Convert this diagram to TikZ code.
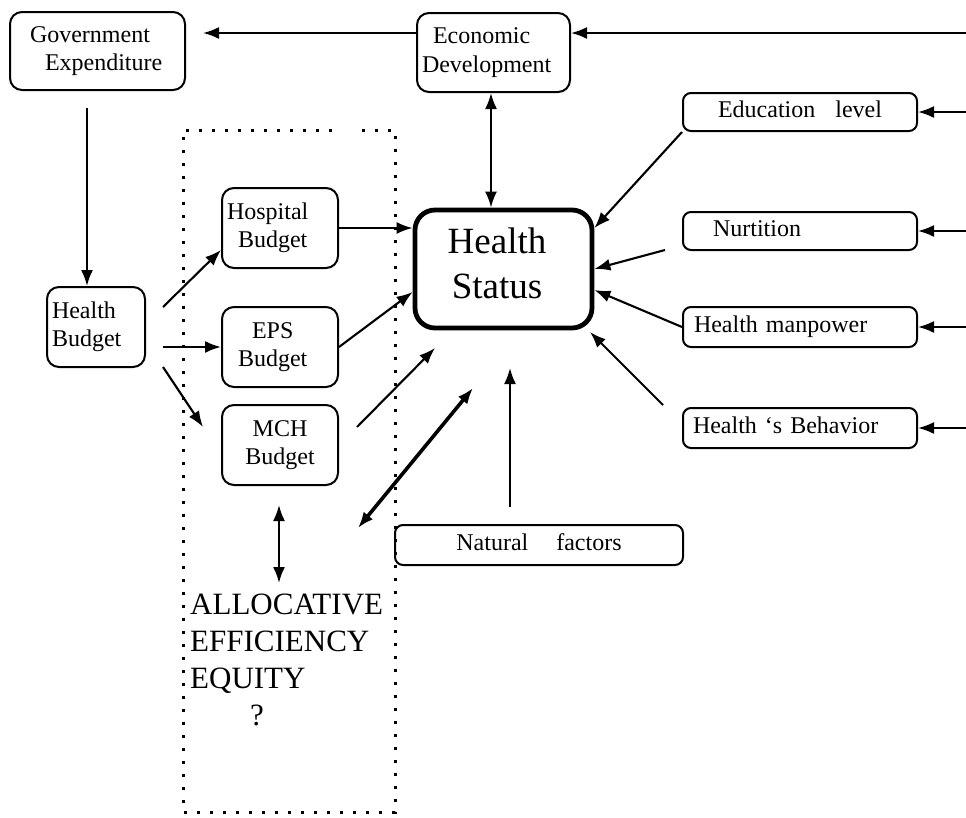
\documentclass[tikz,border=0pt]{standalone}
\usepackage{fontspec}
\setmainfont{Liberation Serif}
\usetikzlibrary{arrows.meta}
\newcommand\bxfont{\fontsize{24}{28.5}\selectfont}
\newcommand\hsfont{\fontsize{37}{45}\selectfont}
\newcommand\alfont{\fontsize{31}{37}\selectfont}
\begin{document}
\begin{tikzpicture}[x=1pt,y=-1pt,
  bx/.style={draw, line width=2pt, rounded corners=12pt, inner sep=0pt, font=\bxfont, align=center},
  lbx/.style={draw, line width=2pt, rounded corners=12pt, inner xsep=5pt, inner ysep=0pt, font=\bxfont, align=left, text width=#1},
  onel/.style={draw, line width=2pt, rounded corners=8pt, inner xsep=5pt, inner ysep=0pt, font=\bxfont,
     text height=16pt, text depth=5pt, text width=224pt},
  hsbox/.style={draw, line width=4.8pt, rounded corners=20pt, minimum width=177pt, minimum height=118pt},
  arr/.style={line width=2.1pt, -{Latex[length=16pt,width=12pt]}},
  darr/.style={line width=2.1pt, {Latex[length=16pt,width=12pt]}-{Latex[length=16pt,width=12pt]}},
  thickdarr/.style={line width=3.6pt, {Latex[length=16pt,width=12pt]}-{Latex[length=16pt,width=12pt]}},
  dots/.style={line width=3pt, dash pattern=on 3pt off 10pt},
]
\useasboundingbox (0,0) rectangle (966,817);
\fill[white] (0,0) rectangle (966,817);

% dotted frame
\draw[dots] (332,130) -- (183,130) -- (183,812) -- (395,812) -- (395,130) -- (357,130);

% nodes
\node[lbx=165pt, minimum height=78pt] (gov) at (97.5,51) {\hspace*{15pt}Government\\\hspace*{30pt}Expenditure};
\node[lbx=143pt, minimum height=79pt] (econ) at (493.5,52.5) {\hspace*{11pt}Economic\\Development};
\node[onel, align=center, minimum height=38pt] (edu) at (800,112) {Education\hspace{20pt}level};
\node[onel, align=left, minimum height=38pt] (nut) at (800,231) {\hspace*{25pt}Nurtition};
\node[onel, align=left, minimum height=40pt] (man) at (800,327) {\hspace*{6pt}Health manpower};
\node[onel, align=left, minimum height=40pt] (beh) at (800,428) {\hspace*{5pt}Health `s Behavior};
\node[hsbox] (hs) at (503.5,269) {};
\node[font=\hsfont, align=center, inner sep=0pt, anchor=north] (hst) at (497,228) {Health\\Status};
\node[lbx=88pt, minimum height=80pt] (hb) at (96,327) {Health\\Budget};
\node[lbx=106pt, minimum height=80pt] (hosp) at (280,228) {Hospital\\\hspace*{11pt}Budget};
\node[lbx=106pt, minimum height=80pt] (eps) at (280,347) {\hspace*{25pt}EPS\\\hspace*{11pt}Budget};
\node[bx, minimum width=116pt, minimum height=80pt] (mch) at (280,445) {MCH\\Budget};
\node[draw, line width=2pt, rounded corners=8pt, inner sep=0pt, font=\bxfont,
      minimum width=288pt, minimum height=40pt, text height=16pt, text depth=5pt] (nat) at (539,545) {Natural\hspace{28pt}factors};
\node[font=\alfont, align=left, inner sep=0pt, anchor=north west] (alloc) at (190,594)
  {ALLOCATIVE\\EFFICIENCY\\EQUITY\\\hspace*{60pt}?};

% coordinates
\coordinate (r) at (966,0);
\coordinate (eA) at (966,33);
\coordinate (gA) at (203,33);
\coordinate (vx) at (491,0);
\coordinate (g1) at (87,108);
\coordinate (h1) at (163,307);
\coordinate (h2) at (163,347);
\coordinate (h3) at (163,367);
\coordinate (m0) at (203,427);
\coordinate (a1) at (357,427);
\coordinate (a2) at (435,348);
\coordinate (d1) at (358,528);
\coordinate (d2) at (473,388);
\coordinate (n1) at (510,507);
\coordinate (n2) at (510,368);
\coordinate (q1) at (279,505);
\coordinate (q2) at (279,583);
\coordinate (u1) at (665,250);
\coordinate (b1) at (663,405);
\coordinate (b2) at (590,332);

% connectors
\draw[arr] (eA) -- (eA -| econ.east);
\draw[arr] (gA -| econ.west) -- (gA);
\draw[darr] (econ.south -| vx) -- (hs.north -| vx);
\draw[arr] (g1) -- (g1 |- hb.north);
\draw[arr] (h1) -- ([yshift=-22pt]hosp.west);
\draw[arr] (h2) -- (h2 -| eps.west);
\draw[arr] (h3) -- (m0);
\draw[arr] (hosp.east) -- (hosp.east -| hs.west);
\draw[arr] (eps.east) -- ([yshift=-23pt]hs.west);
\draw[arr] (a1) -- (a2);
\draw[thickdarr] (d1) -- (d2);
\draw[arr] (n1) -- (n2);
\draw[darr] (q1) -- (q2);
\draw[arr] (edu.south west) -- ([yshift=41pt]hs.east);
\draw[arr] (u1) -- (hs.east);
\draw[arr] (man.west) -- ([yshift=-21pt]hs.east);
\draw[arr] (b1) -- (b2);
\draw[arr] (edu.east -| r) -- (edu.east);
\draw[arr] (nut.east -| r) -- (nut.east);
\draw[arr] (man.east -| r) -- (man.east);
\draw[arr] (beh.east -| r) -- (beh.east);
\end{tikzpicture}
\end{document}
